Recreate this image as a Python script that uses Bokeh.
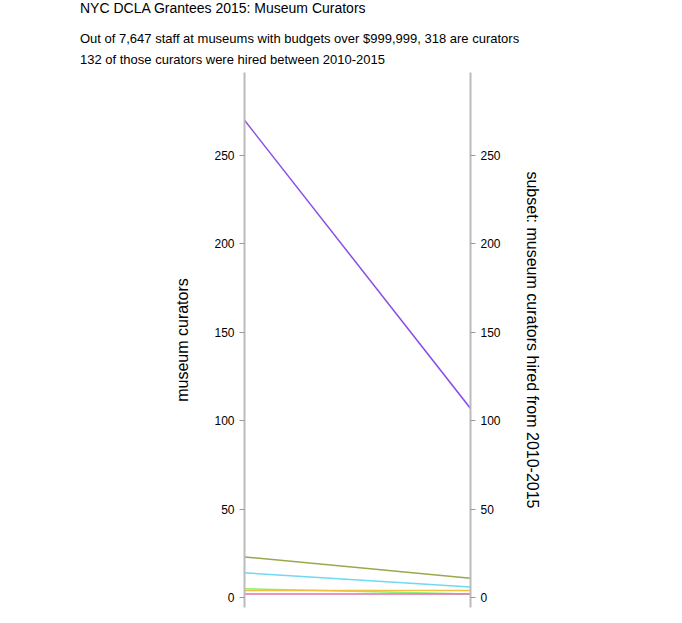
from bokeh.embed import file_html
from bokeh.resources import INLINE
from bokeh.layouts import column
from bokeh.models import Div, LinearAxis, Range1d
from bokeh.plotting import figure

# curators per group: all curators vs subset hired 2010-2015
all_curators = [270, 23, 14, 5, 4, 2]
hired_2010_2015 = [107, 11, 6, 2, 4, 2]
colors = ["#8a4ee6", "#9aa84a", "#6fd8f5", "#8ef07a", "#f0c040", "#e070a8"]
ticks = [0, 50, 100, 150, 200, 250]

head = Div(
    text="<div style='font-family:Liberation Sans;margin-left:80px;color:#000'>"
         "<div style='font-size:14px;line-height:16px;margin:0'>NYC DCLA Grantees 2015: Museum Curators</div>"
         "<div style='font-size:13px;line-height:16px;margin-top:15px'>Out of 7,647 staff at museums with budgets over $999,999, 318 are curators</div>"
         "<div style='font-size:13px;line-height:16px;margin-top:5px'>132 of those curators were hired between 2010-2015</div></div>",
    width=666, height=72, margin=(0, 0, 0, 0))

p = figure(width=666, height=538, output_backend="svg", toolbar_location=None,
           x_range=Range1d(0, 1), y_range=Range1d(-5.6, 297),
           min_border_left=244, min_border_right=196, min_border_top=0, min_border_bottom=3)
p.xaxis.visible = False
p.grid.visible = False
p.outline_line_color = None

for a, b, c in zip(all_curators, hired_2010_2015, colors):
    p.line([0, 1], [a, b], line_color=c, line_width=1.5)

right = LinearAxis(axis_label="subset: museum curators hired from 2010-2015")
p.add_layout(right, "right")
right.axis_label_orientation = "vertical"
for ax, label in [(p.yaxis[0], "museum curators"), (right, None)]:
    ax.ticker = ticks
    if label:
        ax.axis_label = label
    ax.minor_tick_line_color = None
    ax.axis_line_color = "#bbbbbb"
    ax.axis_line_width = 2
    ax.major_tick_line_color = "#999999"
    ax.major_tick_out = 5
    ax.major_tick_in = 0
    ax.major_label_text_font = "Liberation Sans"
    ax.major_label_text_font_size = "12px"
    ax.major_label_text_color = "#000000"
    ax.axis_label_text_font = "Liberation Sans"
    ax.axis_label_text_font_size = "16px"
    ax.axis_label_text_font_style = "normal"
    ax.axis_label_text_color = "#000000"
    ax.axis_label_standoff = 20

open("out.html", "w").write(file_html(column(head, p), INLINE))
